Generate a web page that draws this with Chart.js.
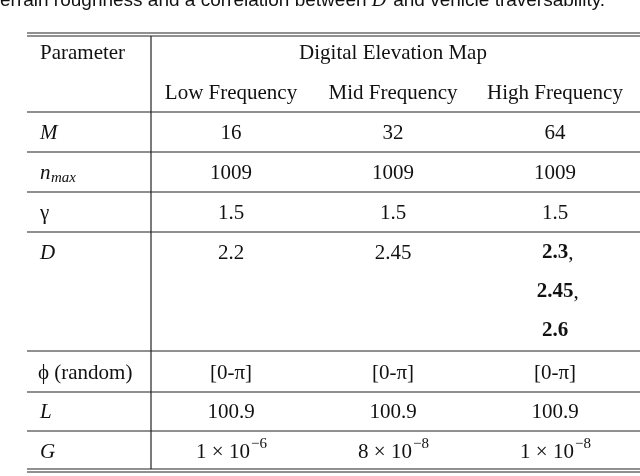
<!DOCTYPE html>
<html><head><meta charset="utf-8">
<script src="https://cdn.jsdelivr.net/npm/chart.js@4"></script>
<style>html,body{margin:0;background:#fff}#wrap{width:640px;height:476px}</style>
</head><body><div id="wrap"><canvas id="c"></canvas></div>
<script>
const columns = ['Low Frequency', 'Mid Frequency', 'High Frequency'];
const params = ['M', 'n_max', 'γ', 'D', 'ϕ (random)', 'L', 'G'];
const rowM = ['16', '32', '64'];
const rowN = ['1009', '1009', '1009'];
const rowGamma = ['1.5', '1.5', '1.5'];
const rowD = [['2.2'], ['2.45'], ['2.3,', '2.45,', '2.6']];
const rowPhi = ['[0-π]', '[0-π]', '[0-π]'];
const rowL = ['100.9', '100.9', '100.9'];
const rowG = [['1', '−6'], ['8', '−8'], ['1', '−8']];

const colX = [231, 393, 555];   // column centres in table units
const rowY = [133, 173, 213, 253, 373, 412, 452];
const hLines = [112, 152, 192, 232, 351, 392, 431];
const serif = '"Liberation Serif", "DejaVu Serif", serif';
const F = '21px ';

const tablePlugin = {
  id: 'table',
  afterDraw(chart) {
    const ctx = chart.ctx, sx = chart.scales.x, sy = chart.scales.y;
    const X = v => sx.getPixelForValue(v), Y = v => sy.getPixelForValue(v);
    ctx.save();
    ctx.fillStyle = '#111'; ctx.strokeStyle = '#222';
    // caption fragment, cut at the top like the source
    const sans = '19px "Liberation Sans", Arial, sans-serif';
    ctx.font = sans;
    ctx.textBaseline = 'alphabetic'; ctx.textAlign = 'left';
    const c1 = 'errain roughness and a correlation between ';
    ctx.fillText(c1, X(0), Y(6));
    let w = ctx.measureText(c1).width;
    ctx.font = 'italic 20px ' + serif; ctx.fillText('D', X(0) + w, Y(6));
    let w2 = ctx.measureText('D ').width;
    ctx.font = sans;
    ctx.fillText('and vehicle traversability.', X(0) + w + w2 + 2, Y(6));

    const hline = y => { ctx.beginPath(); ctx.moveTo(X(27), Y(y)); ctx.lineTo(X(640), Y(y)); ctx.stroke(); };
    ctx.lineWidth = 1.2;
    hline(33); hline(36); hline(469); hline(472);
    hLines.forEach(hline);
    ctx.beginPath(); ctx.moveTo(X(151), Y(36)); ctx.lineTo(X(151), Y(469)); ctx.stroke();

    ctx.textBaseline = 'middle';
    ctx.font = F + serif;
    ctx.fillText('Parameter', X(40), Y(53));
    ctx.textAlign = 'center';
    ctx.fillText('Digital Elevation Map', X(393), Y(53));
    columns.forEach((c, i) => ctx.fillText(c, X(colX[i]), Y(93)));

    // parameter names
    ctx.textAlign = 'left';
    ctx.font = 'italic ' + F + serif;
    ctx.fillText('M', X(40), Y(rowY[0]));
    ctx.fillText('n', X(40), Y(rowY[1]));
    ctx.font = 'italic 15px ' + serif; ctx.fillText('max', X(51), Y(rowY[1] + 5));
    ctx.font = F + serif; ctx.fillText('γ', X(40), Y(rowY[2]));
    ctx.font = 'italic ' + F + serif; ctx.fillText('D', X(40), Y(rowY[3]));
    ctx.font = F + serif; ctx.fillText('ϕ (random)', X(38), Y(rowY[4]));
    ctx.font = 'italic ' + F + serif;
    ctx.fillText('L', X(40), Y(rowY[5])); ctx.fillText('G', X(40), Y(rowY[6]));

    ctx.textAlign = 'center'; ctx.font = F + serif;
    [rowM, rowN, rowGamma].forEach((r, k) => r.forEach((v, i) => ctx.fillText(v, X(colX[i]), Y(rowY[k]))));
    rowD.forEach((vals, i) => vals.forEach((v, j) => {
      const bold = i === 2;
      ctx.font = (bold ? 'bold ' : '') + F + serif;
      if (bold && v.endsWith(',')) {
        const t = v.slice(0, -1), tw = ctx.measureText(t).width;
        ctx.fillText(t, X(colX[i]), Y(rowY[3] + 39 * j));
        ctx.font = F + serif; ctx.textAlign = 'left';
        ctx.fillText(',', X(colX[i]) + tw / 2, Y(rowY[3] + 39 * j));
        ctx.textAlign = 'center';
      } else ctx.fillText(v, X(colX[i]), Y(rowY[3] + 39 * j));
    }));
    ctx.font = F + serif;
    rowPhi.forEach((v, i) => ctx.fillText(v, X(colX[i]), Y(rowY[4])));
    rowL.forEach((v, i) => ctx.fillText(v, X(colX[i]), Y(rowY[5])));
    rowG.forEach(([m, e], i) => {
      ctx.font = F + serif;
      const base = m + ' × 10', bw = ctx.measureText(base).width;
      ctx.font = '15px ' + serif;
      const ew = ctx.measureText(e).width;
      const x0 = X(colX[i]) - (bw + ew) / 2;
      ctx.textAlign = 'left';
      ctx.font = F + serif; ctx.fillText(base, x0, Y(rowY[6]));
      ctx.font = '15px ' + serif; ctx.fillText(e, x0 + bw + 1, Y(rowY[6] - 8));
      ctx.textAlign = 'center';
    });
    ctx.restore();
  }
};

new Chart(document.getElementById('c'), {
  type: 'scatter',
  data: { datasets: [{ data: [], pointRadius: 0 }] },
  options: {
    responsive: true, maintainAspectRatio: false, animation: false,
    layout: { padding: 0 },
    plugins: { legend: { display: false }, tooltip: { enabled: false } },
    scales: {
      x: { type: 'linear', min: 0, max: 640, display: false },
      y: { type: 'linear', min: 0, max: 476, reverse: true, display: false }
    }
  },
  plugins: [tablePlugin]
});
</script>
</body></html>
